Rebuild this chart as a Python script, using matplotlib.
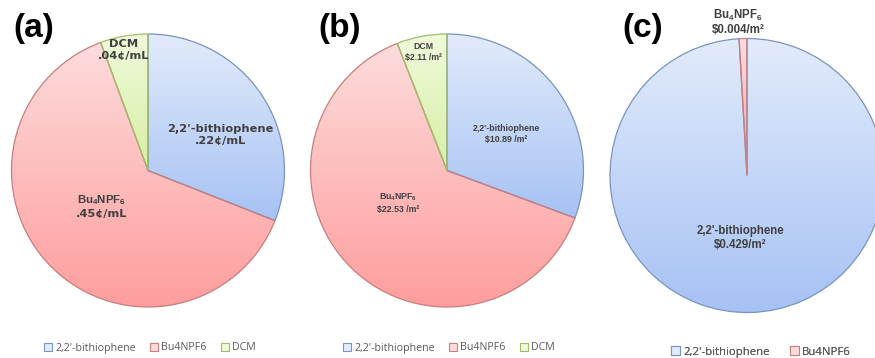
import numpy as np
import matplotlib.pyplot as plt
from matplotlib.patches import Patch
from matplotlib.colors import LinearSegmentedColormap

plt.rcParams['font.family'] = ['Liberation Sans', 'DejaVu Sans']
plt.rcParams['mathtext.fontset'] = 'custom'
plt.rcParams['mathtext.rm'] = 'Liberation Sans'
plt.rcParams['mathtext.bf'] = 'Liberation Sans:bold'

W, H = 875, 358

names = ["2,2'-bithiophene", "Bu4NPF6", "DCM"]
# (a) cost per mL of solution (cents)
cost_a = [0.22, 0.45, 0.04]
text_a = [".22¢/mL", ".45¢/mL", ".04¢/mL"]
# (b) cost per m2 of film
cost_b = [10.89, 22.53, 2.11]
text_b = ["$10.89 /m²", "\\$22.53 /m²", "\\$2.11 /m²"]
# (c) cost per m2, no solvent
cost_c = [0.429, 0.004]
text_c = ["\\$0.429/m²", "\\$0.004/m²"]

# gradient top, gradient bottom, outline
styles = [("#e2ebfb", "#a6c2f4", "#7b93bf"),
          ("#fddcdc", "#ff9d9d", "#c97d7d"),
          ("#f0f9dc", "#d6efa3", "#9fbd66")]

bu = r"$\mathbf{Bu_4NPF_6}$"


def py(y):
    return H - y


def gradient_fill(ax, wedge, top, bottom):
    wedge.set_facecolor("none")
    v = wedge.get_path().vertices
    x0, x1 = v[:, 0].min(), v[:, 0].max()
    y0, y1 = v[:, 1].min(), v[:, 1].max()
    cmap = LinearSegmentedColormap.from_list("g", [bottom, top])
    grad = np.linspace(0, 1, 256).reshape(-1, 1)
    im = ax.imshow(grad, cmap=cmap, extent=(x0, x1, y0, y1), origin="lower",
                   aspect="auto", interpolation="bilinear", zorder=0.5)
    im.set_clip_path(wedge)


def draw_pie(ax, values, center, radius):
    wedges, _ = ax.pie(values, startangle=90, counterclock=False,
                       center=center, radius=radius, frame=True,
                       wedgeprops=dict(linewidth=0.9))
    for w, st in zip(wedges, styles):
        w.set_edgecolor(st[2])
        w.set_zorder(1)
        gradient_fill(ax, w, st[0], st[1])
    return wedges


fig = plt.figure(figsize=(W / 100, H / 100), dpi=100)
ax = fig.add_axes([0, 0, 1, 1])

draw_pie(ax, cost_a, (148, py(170.5)), 136.5)
draw_pie(ax, cost_b, (447, py(170.5)), 136.5)
draw_pie(ax, cost_c, (747, py(175.5)), 137)

ax.set_xlim(0, W)
ax.set_ylim(0, H)
ax.axis("off")

lab_col = "#404040"

# (a) labels
fa = dict(family="DejaVu Sans", weight="bold", size=8.2, color=lab_col,
          ha="center", va="center", linespacing=1.15)
ax.text(220, py(135), names[0] + "\n" + text_a[0], **fa)
ax.text(102, py(206), bu + "\n" + text_a[1], **fa)
ax.text(124, py(50), names[2] + "\n" + text_a[2], **fa)

# (b) labels
fb = dict(weight="bold", size=6.3, color=lab_col, ha="center", va="center",
          linespacing=1.25)
ax.text(506, py(134), names[0] + "\n" + text_b[0], **fb)
ax.text(398, py(203), bu + "\n" + text_b[1], **fb)
ax.text(423, py(52), names[2] + "\n" + text_b[2], **fb)

# (c) labels
fc = dict(weight="bold", size=8.3, color=lab_col, ha="center", va="center",
          linespacing=1.2)
ax.text(740, py(238), names[0] + "\n" + text_c[0], **fc)
ax.text(738, py(22), bu + "\n" + text_c[1], **fc)

# panel letters
for letter, x in [("(a)", 34), ("(b)", 340), ("(c)", 643)]:
    ax.text(x, py(28), letter, size=24, weight="bold", ha="center",
            va="center", color="black")


def add_legend(n, cx, cy, size, colsp):
    handles = [Patch(facecolor=styles[i][0], edgecolor=styles[i][2],
                     linewidth=0.8, label=names[i]) for i in range(n)]
    leg = ax.legend(handles=handles, loc="center", ncol=n, frameon=False,
                    bbox_to_anchor=(cx, cy), bbox_transform=ax.transData,
                    prop=dict(family="Open Sans", size=size),
                    handlelength=0.75, handleheight=0.75, handletextpad=0.3,
                    columnspacing=colsp, labelcolor="#595959",
                    borderpad=0, borderaxespad=0)
    ax.add_artist(leg)


add_legend(3, 150, py(348), 7.7, 1.3)
add_legend(3, 449, py(348), 7.7, 1.3)
add_legend(2, 761, py(352), 8.2, 1.8)

fig.savefig("out.png", dpi=100)
